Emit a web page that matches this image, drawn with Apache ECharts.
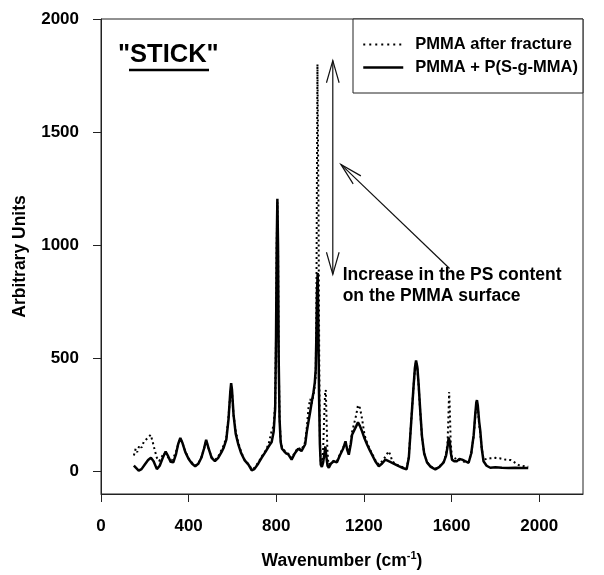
<!DOCTYPE html>
<html>
<head>
<meta charset="utf-8">
<script src="https://cdn.jsdelivr.net/npm/echarts@6/dist/echarts.min.js"></script>
<style>
html,body{margin:0;padding:0;background:#fff;}
#chart{width:604px;height:575px;}
</style>
</head>
<body>
<div id="chart"></div>
<script>
// ---- data ----
const seriesNames = ['PMMA after fracture', 'PMMA + P(S-g-MMA)'];
const xTicks = [0, 400, 800, 1200, 1600, 2000];
const yTicks = [0, 500, 1000, 1500, 2000];

// solid: PMMA + P(S-g-MMA)  [wavenumber, intensity]
const solidSpectrum = [
 [150,25],[160,15],[172,3],[185,10],[200,30],[215,50],[228,60],[240,45],[255,10],[268,25],[282,60],[295,88],[305,70],[318,42],[330,40],[342,75],[352,120],[362,148],[372,125],[385,85],[400,55],[415,35],[430,22],[445,35],[458,60],[470,100],[480,140],[490,105],[505,60],[520,45],[535,60],[550,85],[560,105],[572,140],[582,230],[590,350],[594,390],[598,360],[605,250],[615,165],[627,118],[640,80],[655,50],[673,30],[688,5],[700,10],[718,35],[733,60],[750,85],[765,110],[779,130],[788,175],[795,280],[799,600],[802,1000],[805,1205],[808,1000],[811,500],[815,230],[820,130],[826,100],[835,90],[845,80],[855,75],[870,52],[885,80],[900,100],[908,104],[915,90],[923,82],[932,120],[940,180],[947,220],[955,265],[962,308],[970,350],[976,395],[980,450],[983,600],[986,800],[989,877],[992,650],[995,350],[999,120],[1003,30],[1008,20],[1014,40],[1020,80],[1024,110],[1028,70],[1034,25],[1040,16],[1050,35],[1062,45],[1077,40],[1090,70],[1105,100],[1116,133],[1124,95],[1131,74],[1140,120],[1146,162],[1155,180],[1165,200],[1173,217],[1182,200],[1192,176],[1203,145],[1215,118],[1226,95],[1237,74],[1252,45],[1268,23],[1283,35],[1298,52],[1313,45],[1329,38],[1345,30],[1359,23],[1378,15],[1395,9],[1405,60],[1412,162],[1420,280],[1427,381],[1433,460],[1438,490],[1444,460],[1450,381],[1457,270],[1465,155],[1475,80],[1488,40],[1505,20],[1526,9],[1545,20],[1564,40],[1575,70],[1582,110],[1587,150],[1592,130],[1597,80],[1602,52],[1612,45],[1625,45],[1636,55],[1648,52],[1662,45],[1678,38],[1690,80],[1701,160],[1708,250],[1713,305],[1716,315],[1720,290],[1726,220],[1731,180],[1738,100],[1746,45],[1760,25],[1777,16],[1800,18],[1830,16],[1860,15],[1890,16],[1920,15],[1950,15]
];

// dotted: PMMA after fracture  [wavenumber, intensity]
const dottedSpectrum = [
 [150,70],[158,100],[165,85],[175,115],[185,105],[195,130],[205,140],[215,150],[227,162],[236,130],[245,95],[255,60],[265,45],[275,60],[287,82],[300,70],[312,55],[325,50],[340,80],[352,118],[362,145],[372,125],[385,88],[400,58],[415,38],[430,25],[445,38],[458,62],[470,98],[480,135],[490,105],[505,62],[520,50],[535,65],[550,95],[560,115],[572,150],[582,240],[590,340],[594,375],[598,350],[605,250],[615,180],[627,125],[640,85],[655,52],[673,32],[688,10],[700,15],[718,40],[733,65],[750,90],[765,120],[779,180],[788,200],[795,300],[799,600],[802,1000],[805,1190],[808,1000],[811,500],[815,240],[820,140],[826,105],[835,95],[845,85],[855,78],[870,58],[885,85],[900,105],[908,110],[915,95],[923,88],[932,130],[940,200],[947,280],[955,320],[962,300],[970,340],[976,380],[980,420],[983,700],[986,1400],[988,1800],[990,1800],[993,1100],[996,500],[999,150],[1003,40],[1008,30],[1014,100],[1019,250],[1023,350],[1026,360],[1029,250],[1033,100],[1038,30],[1045,25],[1055,40],[1065,50],[1077,45],[1090,75],[1105,105],[1116,125],[1124,100],[1131,85],[1140,130],[1146,175],[1155,210],[1165,250],[1173,293],[1182,280],[1192,230],[1203,160],[1215,125],[1226,100],[1237,80],[1252,50],[1268,30],[1283,45],[1298,65],[1313,89],[1322,70],[1329,45],[1345,32],[1359,25],[1378,18],[1395,12],[1405,65],[1412,165],[1420,280],[1427,380],[1433,455],[1438,485],[1444,455],[1450,375],[1457,265],[1465,150],[1475,80],[1488,42],[1505,22],[1526,12],[1545,22],[1564,42],[1575,75],[1582,130],[1586,250],[1589,351],[1592,280],[1596,130],[1602,60],[1612,55],[1625,60],[1636,50],[1648,45],[1662,42],[1678,40],[1690,80],[1701,155],[1708,240],[1713,295],[1716,305],[1720,280],[1726,210],[1731,170],[1738,100],[1746,52],[1760,55],[1777,58],[1800,60],[1820,58],[1845,52],[1870,50],[1891,38],[1906,28],[1920,25],[1935,22],[1950,20]
];

// annotation anchors in data units
const doubleArrow = {x: 1058, yTop: 1816, yBottom: 871};
const diagArrow = {from: [1591, 897], to: [1095, 1357]};
const noteLines = ['Increase in the PS content', 'on the PMMA surface'];
const noteAnchor = [1103, 823];
const stickLabel = '"STICK"';

const FONT = '"Liberation Sans", Arial, sans-serif';
const chart = echarts.init(document.getElementById('chart'), null, {renderer: 'canvas'});
const plain = v => String(v);

const option = {
  animation: false,
  backgroundColor: '#fff',
  grid: {left: 101, right: 21, top: 19, bottom: 75, show: true, borderColor: '#222', borderWidth: 1, backgroundColor: 'transparent'},
  legend: {
    orient: 'vertical', left: 353, top: 19,
    data: [
      {name: seriesNames[0], lineStyle: {type: [2, 4], width: 2, color: '#000'}},
      {name: seriesNames[1], lineStyle: {type: 'solid', width: 2.5, color: '#000'}}
    ],
    itemWidth: 40, itemHeight: 14, itemGap: 6,
    padding: [17, 5, 17, 9],
    borderColor: '#222', borderWidth: 1, backgroundColor: '#fff',
    itemStyle: {opacity: 0, borderWidth: 0},
    textStyle: {fontFamily: FONT, fontWeight: 'bold', fontSize: 16.5, color: '#000', padding: [0, 0, 0, 7]}
  },
  xAxis: {
    type: 'value', min: 0, max: 2200,
    name: '{a|Wavenumber (cm}{s|-1}{a|)}', nameLocation: 'middle', nameGap: 56,
    nameTextStyle: {rich: {
      a: {fontFamily: FONT, fontWeight: 'bold', fontSize: 17.5, color: '#000', lineHeight: 20, verticalAlign: 'bottom'},
      s: {fontFamily: FONT, fontWeight: 'bold', fontSize: 11, color: '#000', lineHeight: 20, verticalAlign: 'top', padding: [0,0,6,0]}
    }},
    axisLine: {show: true, onZero: false, lineStyle: {color: '#222', width: 1}},
    axisTick: {show: true, inside: false, length: 8, customValues: xTicks, lineStyle: {color: '#222'}},
    axisLabel: {customValues: xTicks, formatter: plain, margin: 24, fontFamily: FONT, fontWeight: 'bold', fontSize: 17, color: '#000'},
    splitLine: {show: false}
  },
  yAxis: {
    type: 'value', min: -100, max: 2000,
    name: 'Arbitrary Units', nameLocation: 'middle', nameGap: 72, nameRotate: 90,
    nameTextStyle: {fontFamily: FONT, fontWeight: 'bold', fontSize: 17.5, color: '#000'},
    axisLine: {show: true, onZero: false, lineStyle: {color: '#222', width: 1}},
    axisTick: {show: true, inside: false, length: 8, customValues: yTicks, lineStyle: {color: '#222'}},
    axisLabel: {customValues: yTicks, formatter: plain, margin: 22, fontFamily: FONT, fontWeight: 'bold', fontSize: 17, color: '#000'},
    splitLine: {show: false}
  },
  series: [
    {
      name: seriesNames[0], type: 'line', data: dottedSpectrum, showSymbol: false, symbol: 'none',
      lineStyle: {color: '#000', width: 2, type: [2, 3]}, itemStyle: {color: '#000'}, z: 3
    },
    {
      name: seriesNames[1], type: 'line', data: solidSpectrum, showSymbol: false, symbol: 'none',
      lineStyle: {color: '#000', width: 2.5, type: 'solid'}, itemStyle: {color: '#000'}, z: 2
    }
  ]
};
chart.setOption(option);

// ---- annotations (positioned from data units through the grid) ----
function px(p) { return chart.convertToPixel({gridIndex: 0}, p); }
function arrowHead(tip, from, len, angDeg) {
  const dx = from[0] - tip[0], dy = from[1] - tip[1];
  const d = Math.hypot(dx, dy); const ux = dx / d, uy = dy / d;
  const a = angDeg * Math.PI / 180;
  const r = (c, s) => [tip[0] + len * (ux * c - uy * s), tip[1] + len * (ux * s + uy * c)];
  const p1 = r(Math.cos(a), Math.sin(a)), p2 = r(Math.cos(a), -Math.sin(a));
  return {type: 'polyline', shape: {points: [p1, tip, p2]}, style: {stroke: '#111', lineWidth: 1.2, fill: null}, z: 10};
}
const arrTop = px([doubleArrow.x, doubleArrow.yTop]);
const arrBot = px([doubleArrow.x, doubleArrow.yBottom]);
const dFrom = px(diagArrow.from), dTo = px(diagArrow.to);
const notePos = px(noteAnchor);
const graphics = [
  {type: 'line', shape: {x1: arrTop[0], y1: arrTop[1], x2: arrBot[0], y2: arrBot[1]}, style: {stroke: '#111', lineWidth: 1.2}, z: 10},
  arrowHead(arrTop, arrBot, 23, 16),
  arrowHead(arrBot, arrTop, 23, 16),
  {type: 'line', shape: {x1: dFrom[0], y1: dFrom[1], x2: dTo[0], y2: dTo[1]}, style: {stroke: '#111', lineWidth: 1.2}, z: 10},
  arrowHead(dTo, dFrom, 23, 14),
  {type: 'text', x: notePos[0], y: notePos[1], style: {text: noteLines.join('\n'), fontFamily: FONT, fontWeight: 'bold', fontSize: 17.5, lineHeight: 21, fill: '#000', verticalAlign: 'middle', align: 'left'}, z: 10},
  {type: 'text', left: 118, top: 42, style: {text: stickLabel, fontFamily: FONT, fontWeight: 'bold', fontSize: 25.5, fill: '#000'}, z: 10},
  {type: 'line', shape: {x1: 129, y1: 70, x2: 209, y2: 70}, style: {stroke: '#000', lineWidth: 2.5}, z: 10}
];
chart.setOption({graphic: graphics});
</script>
</body>
</html>
